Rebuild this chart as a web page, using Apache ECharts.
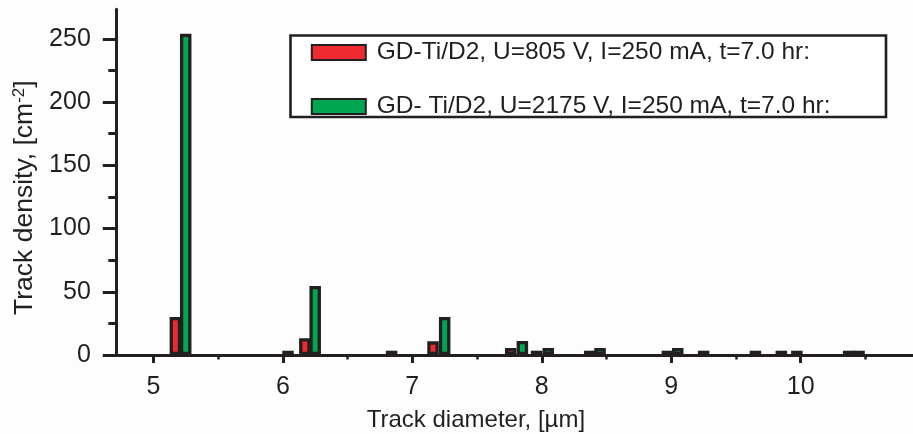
<!DOCTYPE html>
<html>
<head>
<meta charset="utf-8">
<script src="https://cdn.jsdelivr.net/npm/echarts@6.0.0/dist/echarts.min.js"></script>
<style>
html,body{margin:0;padding:0;background:#fdfdfd;}
#chart{width:913px;height:434px;}
</style>
</head>
<body>
<div id="chart"></div>
<script>
// ---- data ----
const seriesNames = [
  'GD-Ti/D2, U=805 V, I=250 mA, t=7.0 hr:',
  'GD- Ti/D2, U=2175 V, I=250 mA, t=7.0 hr:'
];
const redX   = [5.17, 6.04, 6.17, 6.84, 7.16, 7.76, 7.96, 8.37, 8.97, 9.25, 9.65, 9.85, 9.97, 10.37];
const redY   = [30,   3.4,  13.2, 3.4,  10.8, 5.5,  3.4,  3.4,  3.4,  3.4,  3.4,  3.4,  3.4,  3.4];
const greenX = [5.25, 6.25, 7.25, 7.85, 8.05, 8.45, 9.05, 10.45];
const greenY = [254,  54.5, 30,   11.1, 5.5,  5.5,  5.5,  3.4];
const xTicks = [5, 6, 7, 8, 9, 10];
const xMinorTicks = [5.5, 6.5, 7.5, 8.5, 9.5, 10.5];
const yTicks = [0, 50, 100, 150, 200, 250];
const yMinorTicks = [25, 75, 125, 175, 225];
const xTitle = 'Track diameter, [\u00b5m]';
const yTitle = 'Track density, [cm{sup|-2}]';

// ---- chart ----
const INK = '#231f20';
const FONT = '"Liberation Sans", Arial, Helvetica, sans-serif';
const X_MIN = 4.71, X_MAX = 10.867, Y_MIN = 0, Y_MAX = 273.3;

const chart = echarts.init(document.getElementById('chart'), null, {renderer: 'canvas'});
const zip = (xs, ys) => xs.map((x, i) => [x, ys[i]]);

const baseX = {
  type: 'value', min: X_MIN, max: X_MAX, position: 'bottom',
  splitLine: {show: false}
};
const baseY = {
  type: 'value', min: Y_MIN, max: Y_MAX, position: 'left',
  splitLine: {show: false}
};

chart.setOption({
  animation: false,
  backgroundColor: '#fdfdfd',
  textStyle: {fontFamily: FONT, color: INK},
  grid: {left: 115.8, right: 0, top: 9.3, bottom: 79, containLabel: false, outerBoundsMode: 'none'},
  graphic: [{
    type: 'rect', z: 3,
    shape: {x: 290.5, y: 35.5, width: 595.5, height: 81.5},
    style: {fill: '#ffffff', stroke: INK, lineWidth: 2.6}
  }],
  legend: {
    orient: 'vertical', left: 310.8, top: 40, padding: 0, z: 5,
    itemWidth: 54, itemHeight: 15, itemGap: 29,
    selectedMode: false, icon: 'rect',
    textStyle: {fontSize: 24.5, fontFamily: FONT, color: INK, lineHeight: 24, padding: [0, 0, 0, 6]},
    data: seriesNames
  },
  xAxis: [
    Object.assign({}, baseX, {
      axisLine: {show: true, onZero: false, lineStyle: {color: INK, width: 3}},
      axisTick: {show: true, length: 8, customValues: xTicks, lineStyle: {color: INK, width: 3}},
      axisLabel: {show: true, customValues: xTicks, margin: 20, fontSize: 25, fontFamily: FONT, color: INK},
      name: xTitle, nameLocation: 'middle', nameGap: 53,
      nameTextStyle: {fontSize: 24, fontFamily: FONT, color: INK, padding: [0, 77, 0, 0]}
    }),
    Object.assign({}, baseX, {
      axisLine: {show: false, onZero: false},
      axisTick: {show: true, length: 4.5, customValues: xMinorTicks, lineStyle: {color: INK, width: 2.5}},
      axisLabel: {show: false}
    })
  ],
  yAxis: [
    Object.assign({}, baseY, {
      axisLine: {show: true, onZero: false, lineStyle: {color: INK, width: 3}},
      axisTick: {show: true, length: 13, customValues: yTicks, lineStyle: {color: INK, width: 3}},
      axisLabel: {show: true, customValues: yTicks, margin: 25, fontSize: 25, fontFamily: FONT, color: INK},
      name: yTitle, nameLocation: 'middle', nameGap: 76,
      nameTextStyle: {
        fontSize: 26.5, fontFamily: FONT, color: INK, padding: [0, 31, 0, 0],
        rich: {sup: {fontSize: 17, fontFamily: FONT, color: INK, verticalAlign: 'top', lineHeight: 17}}
      }
    }),
    Object.assign({}, baseY, {
      axisLine: {show: false, onZero: false},
      axisTick: {show: true, length: 7.5, customValues: yMinorTicks, lineStyle: {color: INK, width: 3}},
      axisLabel: {show: false}
    })
  ],
  series: [
    {
      name: seriesNames[0], type: 'bar', xAxisIndex: 0, yAxisIndex: 0,
      data: zip(redX, redY), barWidth: 11.5, barGap: '-100%',
      itemStyle: {color: '#ec2a2f', borderColor: INK, borderWidth: 3.3},
      emphasis: {disabled: true}
    },
    {
      name: seriesNames[1], type: 'bar', xAxisIndex: 0, yAxisIndex: 0,
      data: zip(greenX, greenY), barWidth: 11.5, barGap: '-100%',
      itemStyle: {color: '#00a650', borderColor: INK, borderWidth: 3.3},
      emphasis: {disabled: true}
    }
  ]
});
</script>
</body>
</html>
